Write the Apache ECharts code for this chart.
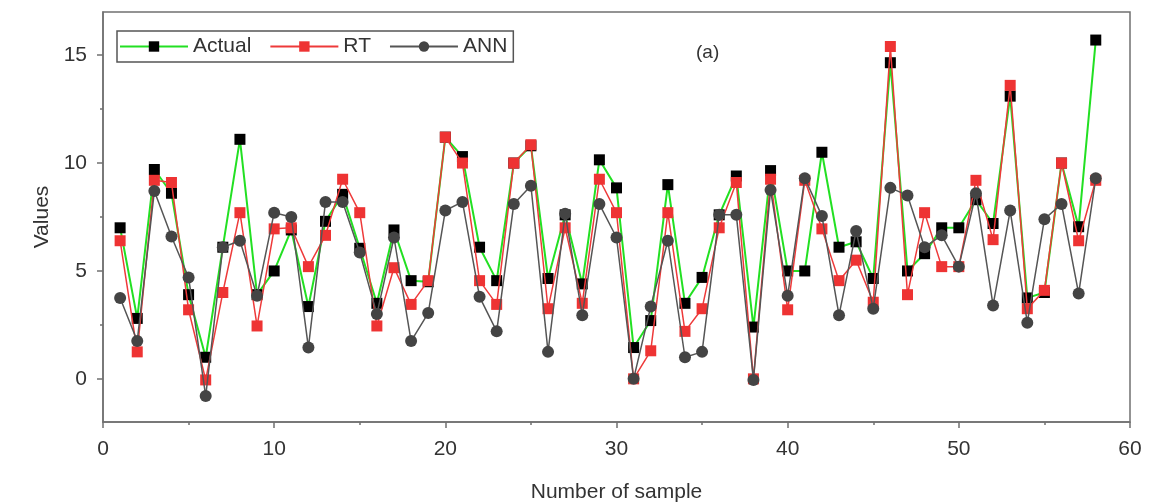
<!DOCTYPE html>
<html>
<head>
<meta charset="utf-8">
<script src="https://cdn.jsdelivr.net/npm/echarts@6/dist/echarts.min.js"></script>
<style>
  html, body { margin: 0; padding: 0; background: #fff; }
  #chart { width: 1161px; height: 504px; }
</style>
</head>
<body>
<div id="chart"></div>
<script>
// sample numbers on the x axis
var samples = [1, 2, 3, 4, 5, 6, 7, 8, 9, 10, 11, 12, 13, 14, 15, 16, 17, 18, 19, 20,
  21, 22, 23, 24, 25, 26, 27, 28, 29, 30, 31, 32, 33, 34, 35, 36, 37, 38, 39, 40,
  41, 42, 43, 44, 45, 46, 47, 48, 49, 50, 51, 52, 53, 54, 55, 56, 57, 58];

// measured values
var actual = [7.0, 2.8, 9.7, 8.6, 3.9, 1.0, 6.1, 11.1, 3.9, 5.0, 6.9, 3.35, 7.3, 8.55, 6.05, 3.5, 6.9, 4.55, 4.5, 11.2,
  10.3, 6.1, 4.55, 10.0, 10.8, 4.65, 7.6, 4.4, 10.15, 8.85, 1.45, 2.7, 9.0, 3.5, 4.7, 7.6, 9.4, 2.4, 9.65, 5.0,
  5.0, 10.5, 6.1, 6.35, 4.65, 14.65, 5.0, 5.8, 7.0, 7.0, 8.3, 7.2, 13.1, 3.75, 4.0, 10.0, 7.05, 15.7];

// RT predictions
var rt = [6.4, 1.25, 9.2, 9.1, 3.2, -0.05, 4.0, 7.7, 2.45, 6.95, 7.0, 5.2, 6.65, 9.25, 7.7, 2.45, 5.15, 3.45, 4.55, 11.2,
  10.0, 4.55, 3.45, 10.0, 10.85, 3.25, 7.0, 3.5, 9.25, 7.7, 0.0, 1.3, 7.7, 2.2, 3.25, 7.0, 9.1, 0.0, 9.25, 3.2,
  9.2, 6.95, 4.55, 5.5, 3.55, 15.4, 3.9, 7.7, 5.2, 5.2, 9.2, 6.45, 13.6, 3.25, 4.1, 10.0, 6.4, 9.2];

// ANN predictions
var ann = [3.75, 1.75, 8.7, 6.6, 4.7, -0.8, 6.1, 6.4, 3.85, 7.7, 7.5, 1.45, 8.2, 8.2, 5.85, 3.0, 6.55, 1.75, 3.05, 7.8,
  8.2, 3.8, 2.2, 8.1, 8.95, 1.25, 7.65, 2.95, 8.1, 6.55, 0.0, 3.35, 6.4, 1.0, 1.25, 7.6, 7.6, -0.05, 8.75, 3.85,
  9.3, 7.55, 2.95, 6.85, 3.25, 8.85, 8.5, 6.1, 6.65, 5.2, 8.6, 3.4, 7.8, 2.6, 7.4, 8.1, 3.95, 9.3];

var yMajor = [0, 5, 10, 15];
var yMinor = [2.5, 7.5, 12.5];

function pairs(vals) {
  return samples.map(function (s, i) { return [s, vals[i]]; });
}

var font = '"Liberation Sans", Arial, sans-serif';
var axisGray = '#707070';

var chart = echarts.init(document.getElementById('chart'));

var option = {
  animation: false,
  backgroundColor: '#fff',
  grid: {
    left: 103, right: 31, top: 12, bottom: 82,
    outerBoundsMode: 'none',
    show: true, borderColor: axisGray, borderWidth: 1.5
  },
  legend: {
    left: 117, top: 31,
    orient: 'horizontal',
    padding: [5, 6, 5, 2],
    itemWidth: 68, itemHeight: 13, itemGap: 18,
    borderColor: '#555', borderWidth: 1.5,
    textStyle: { fontFamily: font, fontSize: 21, color: '#333' },
    data: ['Actual', 'RT', 'ANN']
  },
  graphic: [{
    type: 'text', left: 696, top: 43,
    style: { text: '(a)', font: '19px ' + font, fill: '#333' }
  }],
  xAxis: {
    type: 'value', min: 0, max: 60, interval: 10,
    name: 'Number of sample', nameLocation: 'middle', nameGap: 60,
    nameTextStyle: { fontFamily: font, fontSize: 21, color: '#333' },
    axisLine: { onZero: false, lineStyle: { color: axisGray, width: 1.5 } },
    axisTick: { length: 6, lineStyle: { color: axisGray, width: 1.5 } },
    minorTick: { show: true, splitNumber: 2, length: 3, lineStyle: { color: axisGray, width: 1.5 } },
    axisLabel: { fontFamily: font, fontSize: 21, color: '#333', margin: 17 },
    splitLine: { show: false }
  },
  yAxis: [{
    type: 'value', min: -2, max: 17,
    name: 'Values', nameLocation: 'middle', nameGap: 41,
    nameTextStyle: { fontFamily: font, fontSize: 21, color: '#333' },
    axisLine: { show: true, onZero: false, lineStyle: { color: axisGray, width: 1.5 } },
    axisTick: { show: true, length: 6, customValues: yMajor, lineStyle: { color: axisGray, width: 1.5 } },
    axisLabel: { fontFamily: font, fontSize: 21, color: '#333', margin: 16, customValues: yMajor },
    splitLine: { show: false }
  }, {
    type: 'value', min: -2, max: 17, position: 'left',
    axisLine: { show: false, onZero: false },
    axisTick: { show: true, length: 3, customValues: yMinor, lineStyle: { color: axisGray, width: 1.5 } },
    axisLabel: { show: false },
    splitLine: { show: false }
  }],
  series: [{
    name: 'Actual', type: 'line', data: pairs(actual),
    symbol: 'rect', symbolSize: 11,
    lineStyle: { color: '#22e022', width: 2 },
    itemStyle: { color: '#000' },
    z: 2
  }, {
    name: 'RT', type: 'line', data: pairs(rt),
    symbol: 'rect', symbolSize: 11,
    lineStyle: { color: '#ee3a3a', width: 1.5 },
    itemStyle: { color: '#ee3333' },
    z: 3
  }, {
    name: 'ANN', type: 'line', data: pairs(ann),
    symbol: 'circle', symbolSize: 12,
    lineStyle: { color: '#555', width: 1.5 },
    itemStyle: { color: '#444' },
    z: 4
  }]
};

chart.setOption(option);
</script>
</body>
</html>
